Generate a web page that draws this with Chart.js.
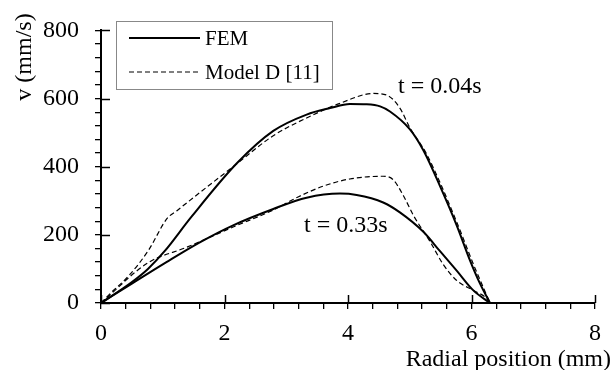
<!DOCTYPE html>
<html>
<head>
<meta charset="utf-8">
<script src="https://cdn.jsdelivr.net/npm/chart.js@4"></script>
<style>
  body { margin: 0; background: #fff; }
  #wrap { width: 613px; height: 370px; }
</style>
</head>
<body>
<div id="wrap"><canvas id="myChart" width="613" height="370"></canvas></div>
<script>
// FEM, t = 0.04s
const xFem1 = [0, 0.49, 0.76, 1.03, 1.46, 2.20, 2.79, 3.33, 3.71, 4.03, 4.30, 4.52, 4.68, 5.0, 5.22, 5.49, 5.76, 5.98, 6.14, 6.30];
const yFem1 = [0, 60, 100, 152, 252, 410, 505, 553, 572, 584, 583, 577, 562, 510, 448, 343, 228, 123, 56, 0];
// Model D [11], t = 0.04s
const xMod1 = [0, 0.15, 0.45, 0.77, 1.07, 1.23, 1.60, 2.14, 2.79, 3.33, 3.87, 4.41, 4.63, 4.84, 5.0, 5.27, 5.76, 6.03, 6.30];
const yMod1 = [0, 28, 80, 155, 248, 271, 324, 400, 491, 543, 586, 615, 610, 572, 515, 438, 238, 114, 0];
// FEM, t = 0.33s
const xFem2 = [0, 0.50, 1.06, 1.60, 2.14, 2.79, 3.33, 3.87, 4.14, 4.57, 4.84, 5.22, 5.49, 5.76, 6.03, 6.30];
const yFem2 = [0, 57, 120, 178, 228, 276, 309, 321, 317, 295, 266, 209, 152, 95, 37, 0];
// Model D [11], t = 0.33s
const xMod2 = [0, 0.76, 1.38, 2.14, 2.79, 3.20, 3.60, 4.03, 4.57, 4.73, 4.90, 5.06, 5.33, 5.54, 5.76, 6.03, 6.25, 6.30];
const yMod2 = [0, 118, 163, 223, 273, 312, 343, 364, 372, 362, 314, 257, 180, 114, 66, 37, 13, 0];

const xMajor = [0, 2, 4, 6, 8];
const yMajor = [0, 200, 400, 600, 800];
const serif = "'Liberation Serif', 'Times New Roman', serif";

function pts(xs, ys) {
  return xs.map((x, i) => ({ x: x, y: ys[i] }));
}

const extras = {
  id: 'extras',
  afterDraw(chart) {
    const ctx = chart.ctx;
    const xs = chart.scales.x, ys = chart.scales.y;
    ctx.save();
    // inner half of the major ticks
    ctx.strokeStyle = '#000';
    ctx.lineWidth = 1.5;
    xMajor.forEach(v => {
      const px = Math.round(xs.getPixelForValue(v)) + 0.5;
      ctx.beginPath(); ctx.moveTo(px, ys.bottom); ctx.lineTo(px, ys.bottom - 8); ctx.stroke();
    });
    yMajor.forEach(v => {
      const py = Math.round(ys.getPixelForValue(v)) + 0.5;
      ctx.beginPath(); ctx.moveTo(xs.left, py); ctx.lineTo(xs.left + 9, py); ctx.stroke();
    });

    // legend box
    ctx.strokeStyle = '#888';
    ctx.lineWidth = 1;
    ctx.strokeRect(116.5, 21.5, 216, 68);
    const ds = chart.data.datasets;
    [[ds[0], 38], [ds[1], 72]].forEach(([d, y]) => {
      ctx.strokeStyle = '#000';
      ctx.lineWidth = d.borderWidth;
      ctx.setLineDash(d.borderDash || []);
      ctx.beginPath(); ctx.moveTo(129, y); ctx.lineTo(200, y); ctx.stroke();
      ctx.setLineDash([]);
      ctx.fillStyle = '#000';
      ctx.font = '21px ' + serif;
      ctx.textAlign = 'left';
      ctx.textBaseline = 'middle';
      ctx.fillText(d.label, 205, y + 1);
    });

    // curve annotations
    ctx.font = '24px ' + serif;
    ctx.textBaseline = 'alphabetic';
    ctx.fillText('t = 0.04s', 398, 93);
    ctx.fillText('t = 0.33s', 304, 232);

    // axis titles
    ctx.textAlign = 'right';
    ctx.fillText('Radial position (mm)', 611, 366);
    ctx.translate(31, 57);
    ctx.rotate(-Math.PI / 2);
    ctx.textAlign = 'center';
    ctx.fillText('v (mm/s)', 0, 0);
    ctx.restore();
  }
};

const ctx = document.getElementById('myChart').getContext('2d');
const myChart = new Chart(ctx, {
  type: 'scatter',
  data: {
    datasets: [
      { label: 'FEM', data: pts(xFem1, yFem1), borderColor: '#000', borderWidth: 2 },
      { label: 'Model D [11]', data: pts(xMod1, yMod1), borderColor: '#000', borderWidth: 1.2, borderDash: [5, 3] },
      { label: 'FEM', data: pts(xFem2, yFem2), borderColor: '#000', borderWidth: 2 },
      { label: 'Model D [11]', data: pts(xMod2, yMod2), borderColor: '#000', borderWidth: 1.2, borderDash: [5, 3] }
    ].map(d => Object.assign(d, { showLine: true, pointRadius: 0, cubicInterpolationMode: 'monotone', fill: false }))
  },
  options: {
    responsive: false,
    animation: false,
    layout: { padding: { top: 24, right: 18, left: 0, bottom: 0 } },
    plugins: { legend: { display: false }, tooltip: { enabled: false } },
    scales: {
      x: {
        type: 'linear', min: 0, max: 8,
        afterFit(s) { s.height = 67; },
        border: { display: true, color: '#000', width: 2 },
        grid: { drawOnChartArea: false, drawTicks: true, tickLength: 6, color: '#000', lineWidth: 1.3 },
        ticks: {
          stepSize: 0.4, autoSkip: false, maxRotation: 0, padding: 10, color: '#000',
          font: { family: serif, size: 24 },
          callback: v => (Math.abs(v / 2 - Math.round(v / 2)) < 1e-6 ? String(Math.round(v)) : '')
        }
      },
      y: {
        type: 'linear', min: 0, max: 800,
        afterFit(s) { s.width = 101; },
        border: { display: true, color: '#000', width: 2 },
        grid: { drawOnChartArea: false, drawTicks: true, tickLength: 6, color: '#000', lineWidth: 1.3 },
        ticks: {
          stepSize: 40, autoSkip: false, padding: 16, color: '#000',
          font: { family: serif, size: 24 },
          callback: v => (Math.abs(v / 200 - Math.round(v / 200)) < 1e-6 ? String(Math.round(v)) : '')
        }
      }
    }
  },
  plugins: [extras]
});
</script>
</body>
</html>
